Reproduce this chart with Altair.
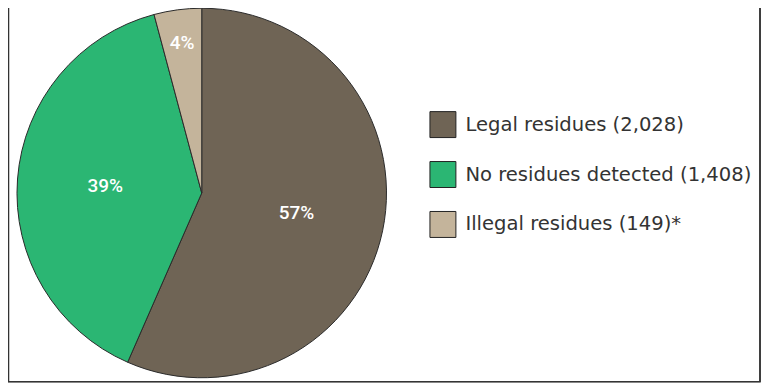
import altair as alt
import pandas as pd

categories = ["Legal residues (2,028)", "No residues detected (1,408)", "Illegal residues (149)*"]
counts = [2028, 1408, 149]
pct_labels = ["57%", "39%", "4%"]
colors = ["#6f6455", "#2bb673", "#c4b49b"]

df = pd.DataFrame({"cat": categories, "count": counts, "pct": pct_labels, "idx": [0, 1, 2]})

cx, cy, R = 194, 185, 185

base = alt.Chart(df).encode(
    theta=alt.Theta("count:Q", stack=True),
    order=alt.Order("idx:Q"),
)

pie = base.mark_arc(radius=R, stroke="#2a2a2a", strokeWidth=1).encode(
    x=alt.value(cx), y=alt.value(cy),
    color=alt.Color(
        "cat:N",
        scale=alt.Scale(domain=categories, range=colors),
        sort=categories,
        legend=alt.Legend(
            title=None, orient="none", legendX=422, legendY=103,
            symbolType="square", symbolSize=676, symbolStrokeColor="#222",
            symbolStrokeWidth=1, symbolOpacity=1, labelFontSize=19.6, labelFont="DejaVu Sans",
            labelColor="#333", labelOffset=9, rowPadding=19, labelLimit=400, padding=0,
        ),
    ),
)

inner = base.transform_calculate(t="datum.count < 500 ? '' : datum.pct").mark_text(
    color="white", fontSize=19, font="Roboto", fontWeight=500, radius=97
).encode(x=alt.value(cx), y=alt.value(cy), text="t:N")

outer = base.transform_calculate(t="datum.count < 500 ? datum.pct : ''").mark_text(
    color="white", fontSize=19, font="Roboto", fontWeight=500, radius=151
).encode(x=alt.value(cx), y=alt.value(cy), text="t:N")

frame = alt.Chart(df).mark_rect(fill=None, stroke="#333", strokeWidth=1.2).encode(
    x=alt.value(0.5), x2=alt.value(753), y=alt.value(-10), y2=alt.value(374)
)

chart = alt.layer(pie, inner, outer, frame).properties(
    width=755, height=376, padding=0, autosize=alt.AutoSizeParams(type="none")
).configure_view(stroke=None)

chart.save("out.html", embed_options={"renderer": "svg", "actions": False})
